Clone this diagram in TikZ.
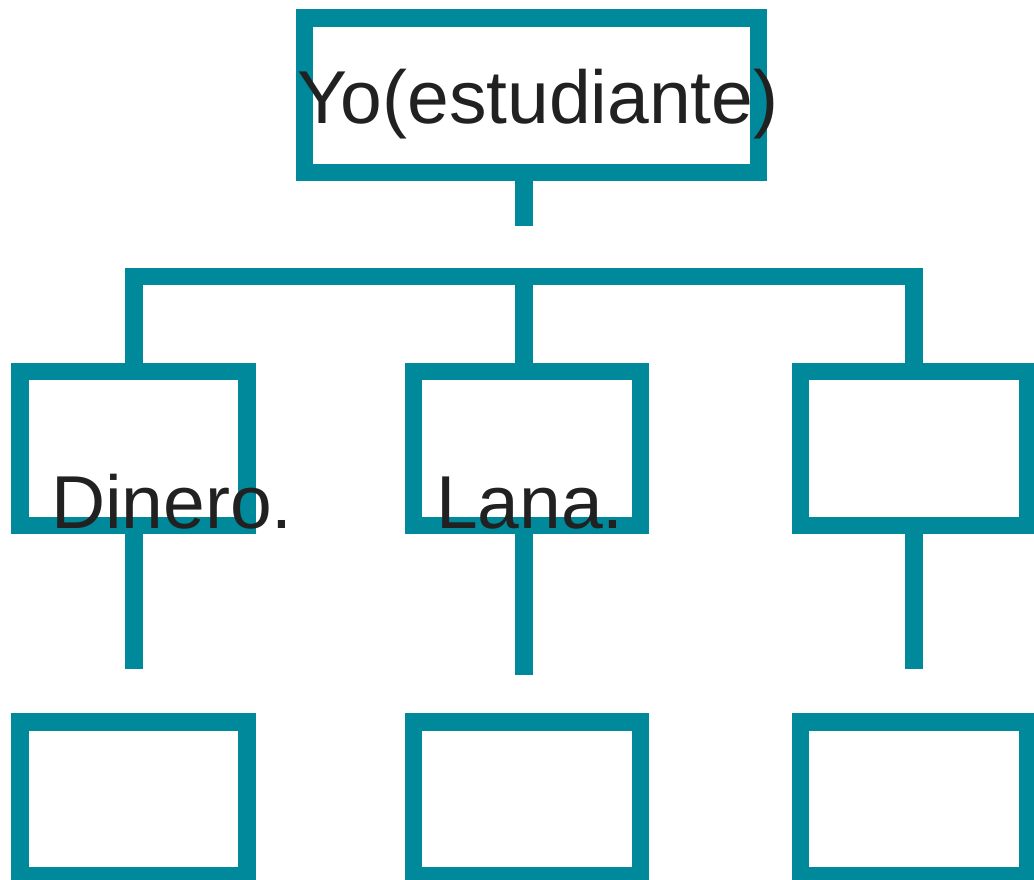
\documentclass[tikz,border=0pt]{standalone}
\usepackage{fontspec}
\setmainfont{Liberation Sans}
\usepackage{tikz}
\definecolor{azulorg}{HTML}{00899B}

\begin{document}
\begin{tikzpicture}[x=1pt,y=-1pt]
  \tikzset{box style/.style = {draw=azulorg, line width=17.5pt, minimum width=227pt, minimum height=154pt, inner sep=0pt}}
  \tikzset{link style/.style = {draw=azulorg, line width=17.5pt}}
  \tikzset{text style/.style = {text=black!87, font=\fontsize{75}{90}\selectfont, inner sep=0pt, anchor=base}}
  \useasboundingbox (0,0) rectangle (1034,879);

  \node[box style, minimum width=454pt, minimum height=154.5pt] (top) at (531.5,95) {};
  \node[box style] (medio1) at (133.7,448.4) {};
  \node[box style] (medio2) at (527.2,448.4) {};
  \node[box style] (medio3) at (914,448.4) {};
  \node[box style] (bajo1) at (133.7,799.2) {};
  \node[box style] (bajo2) at (527.2,799.2) {};
  \node[box style] (bajo3) at (914,799.2) {};

  \coordinate (tronco) at (524,225.7);
  \coordinate (barra1) at (133.8,276.7);
  \coordinate (barra2) at (523.8,276.7);
  \coordinate (barra3) at (913.8,276.7);
  \coordinate (fin1) at (133.8,669.3);
  \coordinate (fin2) at (523.8,675);
  \coordinate (fin3) at (913.8,669.3);

  \draw[link style] (top.south -| tronco) -- (tronco);
  \draw[link style] (barra1 |- medio1.north) -- (barra1) -- (barra3) -- (barra3 |- medio3.north);
  \draw[link style] (barra2) -- (barra2 |- medio2.north);
  \foreach \i in {1,2,3}
    \draw[link style] (barra\i |- medio\i.south) -- (fin\i);

  \node[text style] (tyo) at (538,123.3) {Yo(estudiante)};
  \node[text style] (tdinero) at (172,528.3) {Dinero.};
  \node[text style] (tlana) at (530,528.3) {Lana.};
\end{tikzpicture}
\end{document}
